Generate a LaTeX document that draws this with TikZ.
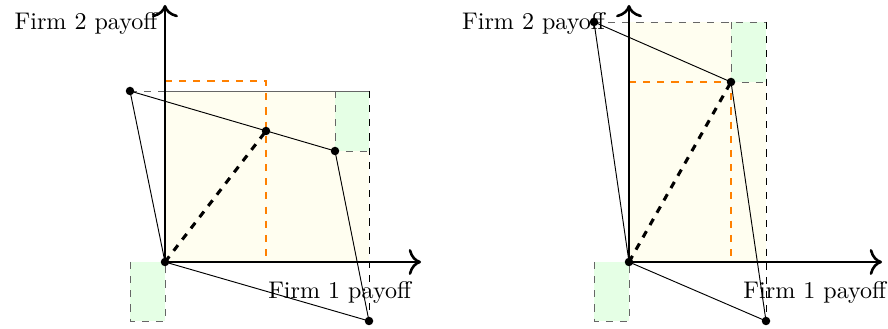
\documentclass[tikz,border=0pt]{standalone}
\usetikzlibrary{arrows.meta}
\begin{document}
\begin{tikzpicture}[x=0.0149cm, y=-0.0149cm,
  axis/.style={-{Computer Modern Rightarrow[scale=1.3]},line width=1.1pt},
  hull/.style={thin},
  guide/.style={dashed,black!60},
  cut/.style={dashed,black},
  split/.style={dashed,line width=1.2pt,orange},
  ray/.style={dashed,line width=1.3pt},
  pt/.style={circle,fill=black,inner sep=0pt,minimum size=3.6pt},
  lbl/.style={inner sep=2pt,font=\fontsize{10.2}{12}\selectfont}]
  \useasboundingbox (0,0) rectangle (888,329);
  % ---------- Left panel ----------
  \coordinate (o1) at (165,262);
  \coordinate (a1) at (130,91);
  \coordinate (b1) at (266,131);
  \coordinate (c1) at (335,151);
  \coordinate (d1) at (369,321);
  \coordinate (t1) at (369,91);
  % Shaded regions
  \fill[yellow!6] (o1) rectangle (t1);
  \fill[green!10] (335,91) rectangle (c1 -| t1);
  \fill[green!10] (130,262) rectangle (165,321);
  \draw[guide] (335,91) -- (335,151) -- (c1 -| t1);
  \draw[guide] (130,262) -- (130,321) -- (165,321) -- (o1);
  \draw[guide] (a1) -- (o1 |- a1);
  \draw[black!60] (o1 |- a1) -- (t1);
  \draw[cut] (t1) -- (d1);
  % Split point
  \draw[split] (165,81) -- (266,81) -- (266,262);
  \draw[ray] (o1) -- (b1);
  % Feasible set
  \draw[hull] (o1) -- (a1) -- (c1) -- (d1) -- cycle;
  % Axes
  \draw[axis] (o1) -- (165,5) coordinate (y1);
  \draw[axis] (o1) -- (421,262) coordinate (x1);
  \node[lbl, anchor=north east] (ylab1) at ([yshift=-1,xshift=-1]y1) {Firm 2 payoff};
  \node[lbl, anchor=north east] (xlab1) at ([yshift=-6,xshift=-2]x1) {Firm 1 payoff};
  \foreach \p in {o1,a1,b1,c1,d1} \node[pt] at (\p) {};
  % ---------- Right panel ----------
  \coordinate (o2) at (629,262);
  \coordinate (a2) at (594,22);
  \coordinate (b2) at (731,82);
  \coordinate (d2) at (766,321);
  \coordinate (t2) at (766,22);
  % Shaded regions
  \fill[yellow!6] (o2) rectangle (t2);
  \fill[green!10] (731,22) rectangle (b2 -| t2);
  \fill[green!10] (594,262) rectangle (629,321);
  \draw[guide] (731,22) -- (b2) -- (b2 -| t2);
  \draw[guide] (594,262) -- (594,321) -- (629,321) -- (o2);
  \draw[guide] (a2) -- (t2);
  \draw[cut] (t2) -- (d2);
  % Split point
  \draw[split] (629,82) -- (b2) -- (731,262);
  \draw[ray] (o2) -- (b2);
  % Feasible set
  \draw[hull] (o2) -- (a2) -- (b2) -- (d2) -- cycle;
  % Axes
  \draw[axis] (o2) -- (629,5) coordinate (y2);
  \draw[axis] (o2) -- (882,262) coordinate (x2);
  \node[lbl, anchor=north east] (ylab2) at ([xshift=-8,yshift=-1]y2) {Firm 2 payoff};
  \node[lbl, anchor=north east] (xlab2) at ([yshift=-6,xshift=4]x2) {Firm 1 payoff};
  \foreach \p in {o2,a2,b2,d2} \node[pt] at (\p) {};
\end{tikzpicture}
\end{document}
